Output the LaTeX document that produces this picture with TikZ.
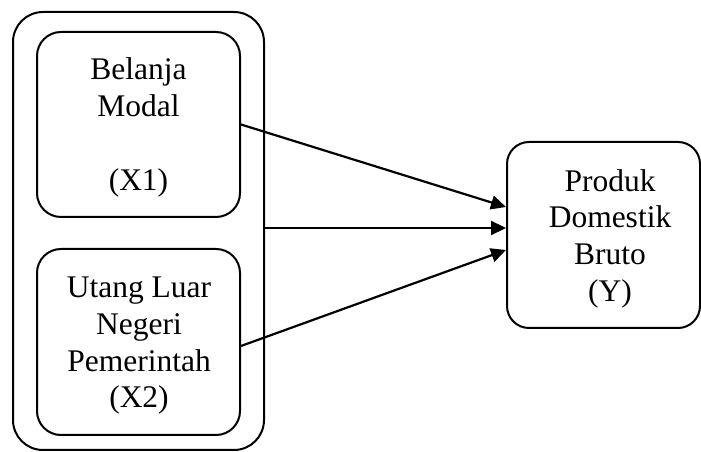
\documentclass[tikz,border=0pt]{standalone}
\usepackage{fontspec}
\setmainfont{Liberation Serif}
\usetikzlibrary{arrows.meta}
\begin{document}
\begin{tikzpicture}[x=1pt,y=1pt,
  boxshape/.style={draw,line width=2pt,inner sep=0pt},
  lbl/.style={anchor=base,inner sep=0pt,font=\fontsize{31.5}{36}\selectfont},
  conn/.style={line width=2.2pt,-{Triangle[length=15pt,width=14pt]}}]
\useasboundingbox (0,0) rectangle (701,452);
% boxes
\node[boxshape,rounded corners=30pt,minimum width=251pt,minimum height=438pt] (outer) at (138.5,221) {};
\node[boxshape,rounded corners=24pt,minimum width=203pt,minimum height=185pt] (top) at (138.5,327.5) {};
\node[boxshape,rounded corners=24pt,minimum width=203pt,minimum height=186pt] (bot) at (138.5,110) {};
\node[boxshape,rounded corners=22pt,minimum width=193pt,minimum height=186pt] (res) at (603.5,217) {};
% texts
\node[lbl] (t1) at (138.5,372) {Belanja};
\node[lbl] (t2) at (138.5,335) {Modal};
\node[lbl] (t3) at (138.5,261) {(X1)};
\node[lbl] (b1) at (139,154) {Utang Luar};
\node[lbl] (b2) at (139,117) {Negeri};
\node[lbl] (b3) at (139,80) {Pemerintah};
\node[lbl] (b4) at (139,44) {(X2)};
\node[lbl] (r1) at (610,260) {Produk};
\node[lbl] (r2) at (610,224) {Domestik};
\node[lbl] (r3) at (610,187) {Bruto};
\node[lbl] (r4) at (610,150) {(Y)};
% connectors
\draw[conn] (top.east) -- ([yshift=28pt]res.west);
\draw[conn] ([yshift=3pt]outer.east) -- ([yshift=7pt]res.west);
\draw[conn] ([yshift=-4pt]bot.east) -- ([yshift=-15pt]res.west);
\end{tikzpicture}
\end{document}
